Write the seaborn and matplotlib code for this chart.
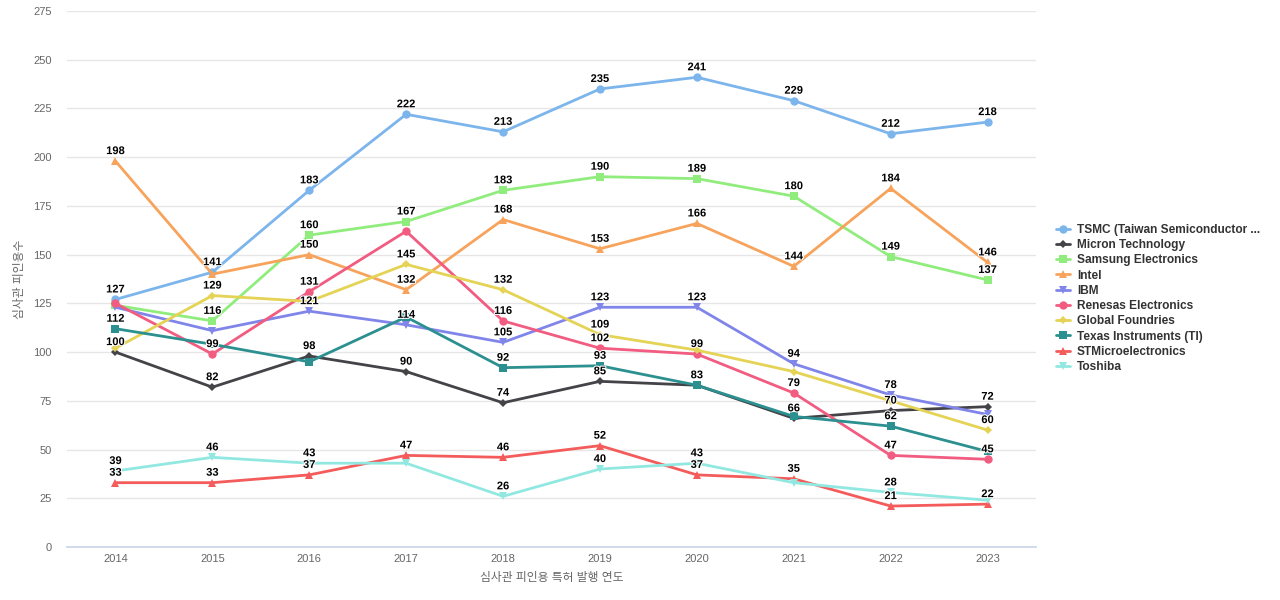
"""Examiner citation counts by patent issue year, top semiconductor companies."""

import matplotlib

matplotlib.use("Agg")
import matplotlib.patheffects as pe
import matplotlib.pyplot as plt
import pandas as pd
import seaborn as sns

YEARS = ["2014", "2015", "2016", "2017", "2018", "2019", "2020", "2021", "2022", "2023"]

COMPANIES = [
    "TSMC (Taiwan Semiconductor ...",
    "Micron Technology",
    "Samsung Electronics",
    "Intel",
    "IBM",
    "Renesas Electronics",
    "Global Foundries",
    "Texas Instruments (TI)",
    "STMicroelectronics",
    "Toshiba",
]

TSMC = [127, 141, 183, 222, 213, 235, 241, 229, 212, 218]
MICRON = [100, 82, 98, 90, 74, 85, 83, 66, 70, 72]
SAMSUNG = [124, 116, 160, 167, 183, 190, 189, 180, 149, 137]
INTEL = [198, 140, 150, 132, 168, 153, 166, 144, 184, 146]
IBM = [123, 111, 121, 114, 105, 123, 123, 94, 78, 68]
RENESAS = [125, 99, 131, 162, 116, 102, 99, 79, 47, 45]
GLOBALFOUNDRIES = [102, 129, 126, 145, 132, 109, 101, 90, 75, 60]
TI = [112, 104, 95, 118, 92, 93, 83, 67, 62, 49]
STMICRO = [33, 33, 37, 47, 46, 52, 37, 35, 21, 22]
TOSHIBA = [39, 46, 43, 43, 26, 40, 43, 33, 28, 24]

SERIES = [TSMC, MICRON, SAMSUNG, INTEL, IBM, RENESAS, GLOBALFOUNDRIES, TI, STMICRO, TOSHIBA]

COLORS = ["#7cb5ec", "#434348", "#90ed7d", "#f7a35c", "#8085e9",
          "#f15c80", "#e4d354", "#2b908f", "#f45b5b", "#91e8e1"]
MARKERS = ["o", "D", "s", "^", "v", "o", "D", "s", "^", "v"]

FONTS = ["Liberation Sans", "Noto Sans CJK KR", "DejaVu Sans"]


def main() -> None:
    sns.set_theme(style="white")
    plt.rcParams["font.family"] = FONTS

    rows = []
    for name, values in zip(COMPANIES, SERIES):
        for i, v in enumerate(values):
            rows.append({"company": name, "x": i, "value": v})
    df = pd.DataFrame(rows)

    fig = plt.figure(figsize=(12.8, 6.0), dpi=100)
    ax = fig.add_axes([67 / 1280, 1 - 547 / 600, (1036 - 67) / 1280, (547 - 11) / 600])

    sns.lineplot(
        data=df,
        x="x",
        y="value",
        hue="company",
        style="company",
        hue_order=COMPANIES,
        style_order=COMPANIES,
        palette=dict(zip(COMPANIES, COLORS)),
        markers=dict(zip(COMPANIES, MARKERS)),
        dashes=False,
        linewidth=2,
        markersize=6,
        markeredgewidth=0,
        ax=ax,
    )
    # diamonds read bigger than the other shapes at the same size
    for line in ax.lines:
        if line.get_marker() == "D":
            line.set_markersize(4.5)

    ax.set_xlim(-0.5, len(YEARS) - 0.5)
    ax.set_ylim(0, 275)
    ax.set_xticks(range(len(YEARS)))
    ax.set_xticklabels(YEARS)
    ax.set_yticks(range(0, 276, 25))
    ax.tick_params(axis="both", length=0, labelsize=8, labelcolor="#666666")
    ax.tick_params(axis="y", pad=11)
    ax.tick_params(axis="x", pad=5)
    ax.yaxis.grid(True, color="#e6e6e6", linewidth=1)
    ax.xaxis.grid(False)
    for side in ["top", "right", "left"]:
        ax.spines[side].set_visible(False)
    ax.spines["bottom"].set_color("#ccd6eb")
    ax.set_xlabel("")
    ax.set_ylabel("")

    # data labels, skipping ones that would sit on top of an earlier label
    px_per_unit = ax.transData.transform((0, 1))[1] - ax.transData.transform((0, 0))[1]
    for i in range(len(YEARS)):
        placed = []
        for values in SERIES:
            v = values[i]
            if any(abs(v - p) * px_per_unit < 11 for p in placed):
                continue
            placed.append(v)
            ax.annotate(
                str(v),
                (i, v),
                xytext=(0, 5),
                textcoords="offset pixels",
                ha="center",
                va="bottom",
                fontsize=8,
                fontweight="bold",
                color="black",
                path_effects=[pe.withStroke(linewidth=1.5, foreground="white")],
            )

    fig.text(20 / 1280, 1 - 279 / 600, "심사관 피인용수", rotation=90,
             ha="center", va="center", fontsize=8.5, color="#666666")
    fig.text(551.5 / 1280, 1 - 578 / 600, "심사관 피인용 특허 발행 연도",
             ha="center", va="center", fontsize=8.5, color="#666666")

    handles, labels = ax.get_legend_handles_labels()
    leg = ax.legend(
        handles,
        labels,
        loc="upper left",
        bbox_to_anchor=(1056 / 1280, 1 - 224 / 600),
        bbox_transform=fig.transFigure,
        frameon=False,
        fontsize=8.6,
        labelspacing=0.27,
        handlelength=1.2,
        handletextpad=0.55,
        borderaxespad=0,
        borderpad=0,
    )
    for text in leg.get_texts():
        text.set_fontweight("bold")
        text.set_color("#333333")
    for h in leg.legend_handles:
        if h.get_marker() == "D":
            h.set_markersize(4.5)

    fig.savefig("out.png", dpi=100)
    plt.close(fig)


if __name__ == "__main__":
    main()
